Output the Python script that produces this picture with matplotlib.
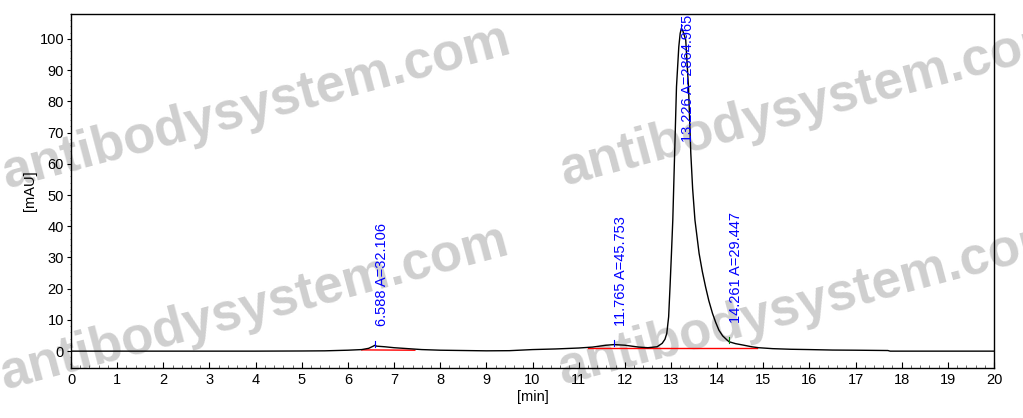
import matplotlib.pyplot as plt
from matplotlib.ticker import MultipleLocator

plt.rcParams['font.family'] = ['Liberation Sans', 'DejaVu Sans']

# chromatogram trace
time_min = [0, 1, 2, 3, 4, 5, 5.5, 6.0, 6.3, 6.45, 6.55, 6.588, 6.62, 6.8, 7.0, 7.3, 7.6,
            8.0, 8.5, 9.0, 9.5, 10.0, 10.5, 11.0, 11.3, 11.6, 11.765, 12.0, 12.3, 12.5,
            12.7, 12.81, 12.87, 12.91, 12.95, 12.98, 13.01, 13.04, 13.08, 13.12, 13.17,
            13.2, 13.226, 13.26, 13.32, 13.38, 13.43, 13.47, 13.52, 13.61, 13.68, 13.75,
            13.82, 13.9, 13.97, 14.04, 14.12, 14.22, 14.261, 14.4, 14.58, 14.75, 14.9,
            15.2, 15.6, 16.0, 16.5, 17.0, 17.7, 17.75, 18, 19, 20]
signal_mau = [0, 0, 0, 0, 0, 0.05, 0.1, 0.3, 0.5, 0.9, 1.6, 1.9, 1.6, 1.4, 1.1, 0.8, 0.5,
              0.3, 0.2, 0.1, 0.15, 0.5, 0.7, 1.0, 1.3, 1.9, 2.1, 1.9, 1.3, 1.1,
              1.4, 2.5, 3.8, 5.7, 11, 20.6, 31, 42, 63.4, 84.7, 97.5,
              101.8, 103.4, 102.5, 99.7, 84.7, 63.4, 52, 42, 31.3, 25.5, 20.6,
              16.2, 12.1, 9.2, 6.7, 4.9, 3.5, 3.0, 2.4, 1.9, 1.4, 1.1,
              0.8, 0.6, 0.5, 0.35, 0.3, 0.2, 0.0, 0, 0, 0]

# integrated peaks
peak_rt = [6.588, 11.765, 13.226, 14.261]
peak_height = [1.9, 2.1, 103.4, 3.0]
peak_area = ["32.106", "45.753", "2864.965", "29.447"]

# baselines under the peaks (start, end)
base_t = [[6.3, 7.45], [11.2, 14.87]]
base_y = [[0.4, 0.3], [0.9, 0.9]]

fig = plt.figure(figsize=(10.23, 4.18), dpi=100)
ax = fig.add_axes([71 / 1023, 1 - 368 / 418, 923 / 1023, 354 / 418])
ax.set_zorder(1)
ax.patch.set_alpha(0)

# watermarks
for (px, py) in [(7, 188), (565, 185), (5, 389), (563, 384)]:
    fig.text(px / 1023, 1 - py / 418, "antibodysystem.com", fontsize=38, fontweight='bold',
             color='#cfcfcf', rotation=15, rotation_mode='anchor',
             ha='left', va='baseline', zorder=0)

ax.plot(time_min, signal_mau, color='black', lw=1.0, zorder=3)
for bt, by in zip(base_t, base_y):
    ax.plot(bt, by, color='red', lw=1.0, zorder=2)

for i, (rt, h, a) in enumerate(zip(peak_rt, peak_height, peak_area)):
    c = 'green' if i == 3 else 'blue'
    ax.plot([rt, rt], [h - 0.5, h + 1.5], color=c, lw=0.8, zorder=4)
    lab = f"{rt:.3f} A={a}"
    if h > 50:
        ax.text(rt, 107.8, lab, rotation=90, color='blue', fontsize=10.5,
                ha='left', va='top', zorder=5)
    else:
        ax.text(rt, h + 6, lab, rotation=90, color='blue', fontsize=10.5,
                ha='left', va='bottom', zorder=5)

ax.set_xlim(0, 20)
ax.set_ylim(-5.4, 108)
ax.xaxis.set_major_locator(MultipleLocator(1))
ax.xaxis.set_minor_locator(MultipleLocator(0.2))
ax.yaxis.set_major_locator(MultipleLocator(10))
ax.yaxis.set_minor_locator(MultipleLocator(2))
ax.tick_params(axis='x', which='both', direction='in', labelsize=10.5)
ax.tick_params(axis='x', which='major', length=4)
ax.tick_params(axis='x', which='minor', length=2, color='#555555')
ax.tick_params(axis='y', which='both', direction='out', labelsize=10.5, pad=2)
ax.tick_params(axis='y', which='major', length=3)
ax.tick_params(axis='y', which='minor', length=1, color='#777777')
for s in ax.spines.values():
    s.set_linewidth(1.0)
ax.set_xlabel("[min]", fontsize=10.5, labelpad=2)
ax.set_ylabel("[mAU]", fontsize=10.5, labelpad=2)

fig.savefig("out.png", dpi=100)
